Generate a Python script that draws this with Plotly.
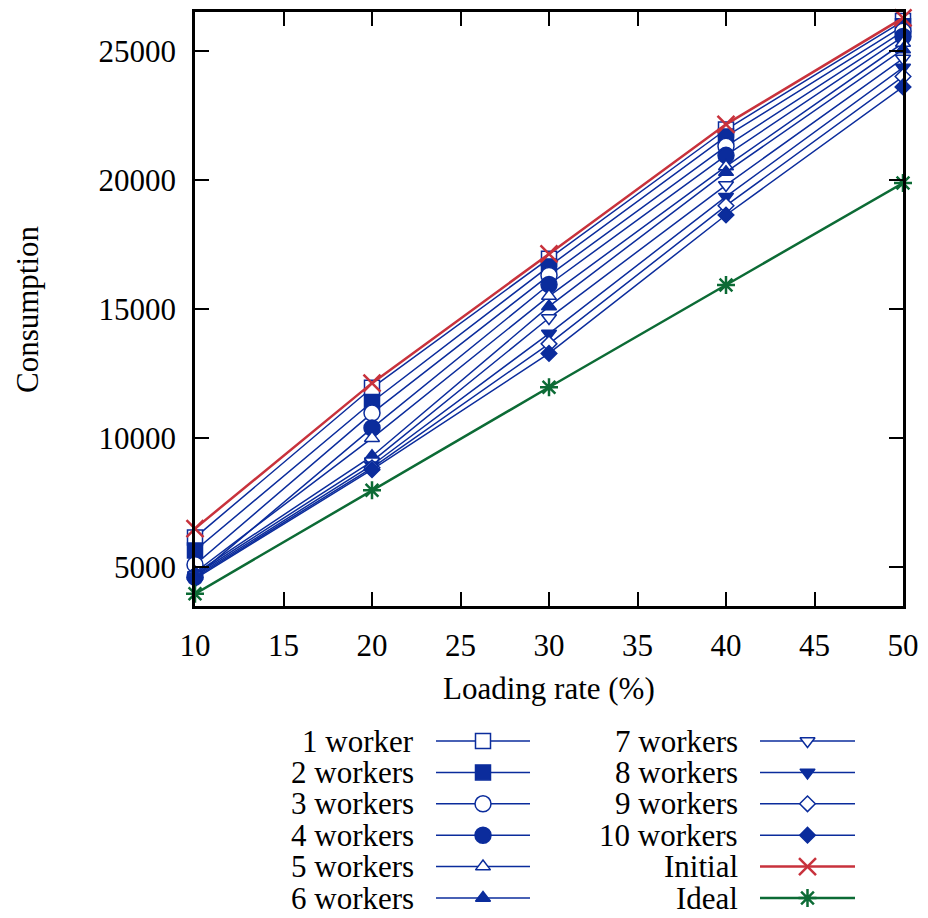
import plotly.graph_objects as go

# the page body adds an 8px margin; design in page pixels and shift
OFF = 8
W, H = 928 - OFF, 918 - OFF

loading = [10, 20, 30, 40, 50]

names = ["1 worker", "2 workers", "3 workers", "4 workers", "5 workers",
         "6 workers", "7 workers", "8 workers", "9 workers", "10 workers",
         "Initial", "Ideal"]

w1 = [6150, 11950, 16950, 21950, 26150]
w2 = [5650, 11400, 16650, 21680, 25950]
w3 = [5100, 10970, 16300, 21300, 25750]
w4 = [4620, 10390, 15950, 20950, 25550]
w5 = [4800, 10000, 15500, 20520, 25300]
w6 = [4750, 9300, 15100, 20300, 25050]
w7 = [4700, 9100, 14650, 19800, 24700]
w8 = [4650, 8950, 14050, 19350, 24350]
w9 = [4600, 8850, 13650, 19000, 24000]
w10 = [4550, 8780, 13280, 18640, 23600]
initial = [6500, 12130, 17130, 22150, 26270]
ideal = [3970, 7980, 11970, 15930, 19880]

series = [w1, w2, w3, w4, w5, w6, w7, w8, w9, w10, initial, ideal]

x_ticks = [10, 15, 20, 25, 30, 35, 40, 45, 50]
y_ticks = [5000, 10000, 15000, 20000, 25000]

BLUE = "#0b2c9c"
RED = "#c8323c"
GREEN = "#0c6b35"
WHITE = "#ffffff"

# style per series: (symbol, size, fill, line colour, line width, marker line width)
styles = [
    ("square", 15, WHITE, BLUE, 1.5, 1.5),
    ("square", 15, BLUE, BLUE, 1.5, 1.5),
    ("circle", 16, WHITE, BLUE, 1.5, 1.5),
    ("circle", 16, BLUE, BLUE, 1.5, 1.5),
    ("triangle-up", 13, WHITE, BLUE, 1.5, 1.5),
    ("triangle-up", 13, BLUE, BLUE, 1.5, 1.5),
    ("triangle-down", 13, WHITE, BLUE, 1.5, 1.5),
    ("triangle-down", 13, BLUE, BLUE, 1.5, 1.5),
    ("diamond", 12, WHITE, BLUE, 1.5, 1.5),
    ("diamond", 12, BLUE, BLUE, 1.5, 1.5),
    ("x-thin", 17, RED, RED, 2.5, 2.5),
    ("asterisk", 15, GREEN, GREEN, 2.5, 2.5),
]

FONT = "Liberation Serif"
FS = 31


def px(v):
    return v - OFF


fig = go.Figure()

for name, ys, st in zip(names, series, styles):
    sym, size, fill, col, lw, mlw = st
    fig.add_trace(go.Scatter(
        x=loading, y=ys, name=name, mode="lines+markers",
        line=dict(color=col, width=lw),
        marker=dict(symbol=sym, size=size, color=fill,
                    line=dict(color=col, width=mlw)),
        cliponaxis=False, showlegend=False,
        xaxis="x", yaxis="y",
    ))

# ---- hand-made legend (gnuplot style: text right-aligned, sample on the right)
rows = 6
row_y0, row_dy = 741, 31.4
col_text_x = [416, 740]
col_line = [(436, 530), (760, 855)]
annotations = []
for i, (name, st) in enumerate(zip(names, styles)):
    sym, size, fill, col, lw, mlw = st
    c, r = divmod(i, rows)
    yy = px(row_y0 + r * row_dy)
    xa, xb = px(col_line[c][0]), px(col_line[c][1])
    xm = (xa + xb) / 2
    fig.add_trace(go.Scatter(
        x=[xa, xm, xb], y=[yy, yy, yy], mode="lines",
        line=dict(color=col, width=lw), showlegend=False, hoverinfo="skip",
        xaxis="x2", yaxis="y2", cliponaxis=False,
    ))
    fig.add_trace(go.Scatter(
        x=[xm], y=[yy], mode="markers",
        marker=dict(symbol=sym, size=size, color=fill,
                    line=dict(color=col, width=mlw)),
        showlegend=False, hoverinfo="skip",
        xaxis="x2", yaxis="y2", cliponaxis=False,
    ))
    annotations.append(dict(
        x=px(col_text_x[c]), y=yy, xref="x2", yref="y2", text=name,
        showarrow=False, xanchor="right", yanchor="middle",
        font=dict(family=FONT, size=FS, color="black"),
    ))

# axis titles
annotations.append(dict(
    x=px(549), y=px(688), xref="x2", yref="y2",
    text="Loading rate (%)", showarrow=False, xanchor="center", yanchor="middle",
    font=dict(family=FONT, size=FS, color="black"),
))
annotations.append(dict(
    x=px(27), y=px(309), xref="x2", yref="y2",
    text="Consumption", showarrow=False, xanchor="center", yanchor="middle",
    textangle=-90, font=dict(family=FONT, size=FS, color="black"),
))

px_left, px_right, px_top, px_bottom = px(195), px(903), px(12), px(606)

axis_common = dict(
    showline=True, linecolor="black", linewidth=2.5, mirror="ticks",
    ticks="inside", ticklen=14, tickwidth=2, tickcolor="black",
    showgrid=False, zeroline=False, automargin=False,
    tickfont=dict(family=FONT, size=FS, color="black"),
    ticklabelstandoff=10,
)

fig.update_layout(
    width=W, height=H, autosize=False,
    margin=dict(l=0, r=0, t=0, b=0, pad=0, autoexpand=False),
    paper_bgcolor="white", plot_bgcolor="rgba(0,0,0,0)",
    showlegend=False,
    xaxis=dict(
        domain=[px_left / W, px_right / W], range=[10, 50],
        tickvals=x_ticks, ticktext=[str(v) for v in x_ticks],
        anchor="y", **axis_common,
    ),
    yaxis=dict(
        domain=[1 - px_bottom / H, 1 - px_top / H], range=[3500, 26500],
        tickvals=y_ticks, ticktext=[str(v) for v in y_ticks],
        anchor="x", **axis_common,
    ),
    xaxis2=dict(domain=[0, 1], range=[0, W], visible=False, fixedrange=True,
                anchor="y2", automargin=False),
    yaxis2=dict(domain=[0, 1], range=[H, 0], visible=False, fixedrange=True,
                anchor="x2", automargin=False),
    annotations=annotations,
)

fig.write_html("out.html")
